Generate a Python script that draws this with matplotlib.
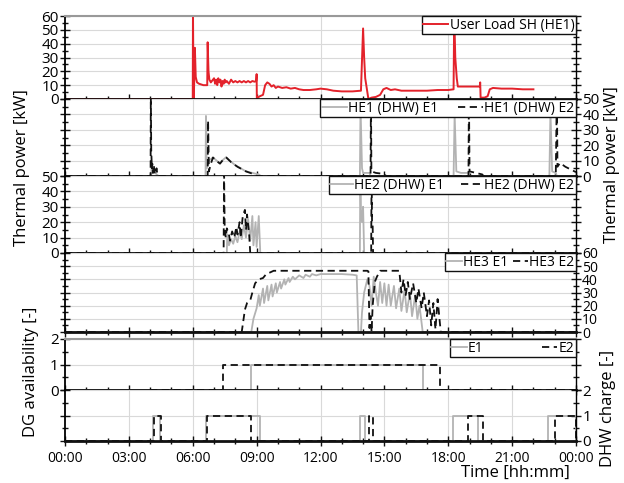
import numpy as np
import matplotlib
matplotlib.use('Agg')
import matplotlib.pyplot as plt
from matplotlib.ticker import MultipleLocator, FuncFormatter

plt.rcParams['font.family'] = ['Open Sans', 'DejaVu Sans']

# ---- data (time in hours) ----
# user load space heating HE1 [kW]
sh_t = [0, 6.0, 6.01, 6.03, 6.05, 6.07, 6.1, 6.14, 6.2, 6.3, 6.4, 6.5, 6.6, 6.68, 6.7, 6.74, 6.78, 6.85,
        6.9, 7.0, 7.05, 7.1, 7.15, 7.2, 7.25, 7.3, 7.35, 7.4, 7.45, 7.5, 7.55, 7.6, 7.7, 7.8, 7.9, 8.0,
        8.1, 8.2, 8.3, 8.4, 8.5, 8.6, 8.7, 8.8, 8.9, 8.98, 9.0, 9.01, 9.05, 9.15, 9.3, 9.4, 9.5, 9.6,
        9.7, 9.8, 9.9, 10.0, 10.2, 10.4, 10.6, 10.8, 11.0, 11.2, 11.5, 11.8, 12.0, 12.3, 12.6, 13.0,
        13.5, 13.9, 14.0, 14.05, 14.1, 14.2, 14.25, 14.4, 14.6, 14.8, 14.95, 15.1, 15.3, 15.5, 15.8,
        16.0, 16.5, 17.0, 17.5, 18.0, 18.25, 18.28, 18.33, 18.4, 18.45, 18.8, 19.2, 19.48, 19.5, 19.52,
        19.7, 19.85, 19.95, 20.1, 20.5, 21.0, 21.5, 22.0]
sh_p = [0, 0, 62, 20, 0, 14, 37, 16, 12, 11, 10.5, 10, 10, 10, 41, 20, 14, 12,
        13, 15, 11, 14, 10, 15, 12, 14, 9, 13, 11, 14, 12, 13, 11, 14, 12, 13,
        12, 13, 12, 13, 12, 13, 12, 13, 12.5, 13, 18, 0, 1, 2, 3, 10, 12, 11,
        9, 10, 8, 9, 8, 8.5, 7.5, 8, 7, 6.5, 6.5, 7, 7.5, 7, 6, 5.5,
        5.5, 6, 51, 30, 15, 5, 0, 1, 1.5, 3, 7, 8, 6.5, 7, 6,
        6, 6, 6, 6.5, 6.5, 7, 62, 30, 15, 9, 9, 9, 9, 12, 1,
        1, 2, 7, 8, 7.5, 7.5, 7, 7]

# HE1 DHW [kW]
he1_e1_t = [0, 4.05, 4.07, 4.12, 4.2, 4.3, 4.4, 6.6, 6.62, 6.66, 6.75, 6.95, 7.25, 7.55, 8.0, 8.5, 9.1, 9.2,
            13.85, 13.88, 13.95, 14.0, 14.3, 14.35, 18.25, 18.3, 18.38, 18.6, 18.95, 19.0,
            22.75, 22.8, 22.88, 23.05, 23.1, 24]
he1_e1_p = [0, 0, 6, 2, 4, 1, 0, 0, 39, 5, 10, 12, 8.5, 12, 7, 3, 1, 0,
            0, 45, 5, 2, 2, 0, 0, 40, 3, 2, 2, 0,
            0, 42, 3, 2, 0, 0]
he1_e2_t = [0, 4.02, 4.03, 4.05, 4.08, 4.1, 4.13, 4.17, 4.22, 4.3, 4.35, 6.7, 6.72, 6.76, 6.85, 6.95, 7.1,
            7.28, 7.45, 7.58, 7.8, 8.1, 8.5, 8.9, 9.0, 14.35, 14.37, 14.39, 14.6, 14.9, 15.1,
            18.95, 18.97, 19.0, 19.3, 19.6, 19.65, 23.05, 23.1, 23.13, 23.25, 23.5, 24.0]
he1_e2_p = [0, 0, 55, 17, 5, 8, 2, 7, 1, 5, 0, 0, 36, 3, 8, 12, 10,
            8, 11, 12, 9, 6, 3, 1, 0, 0, 55, 3, 2, 1.5, 0,
            0, 55, 3, 2, 1, 0, 0, 55, 6, 8.5, 6, 2.5]

# HE2 DHW [kW]
he2_e1_t = [0, 7.6, 7.62, 7.7, 7.8, 7.9, 8.0, 8.1, 8.2, 8.3, 8.4, 8.5, 8.6, 8.7, 8.8, 8.85, 8.95, 9.0,
            9.1, 9.16, 9.17, 13.85, 13.87, 13.9, 13.95, 14.0, 14.05, 24]
he2_e1_p = [0, 0, 12, 5, 9, 6, 11, 7, 14, 9, 18, 10, 22, 8, 24, 5, 20, 4,
            24, 4, 0, 0, 55, 28, 20, 30, 0, 0]
he2_e2_t = [0, 7.45, 7.47, 7.5, 7.55, 7.6, 7.7, 7.75, 7.85, 7.95, 8.05, 8.1, 8.2, 8.25, 8.35, 8.45, 8.5,
            8.55, 8.65, 8.7, 14.38, 14.4, 14.42, 14.45, 14.47, 24]
he2_e2_p = [0, 0, 55, 15, 10, 16, 12, 8, 14, 10, 17, 12, 20, 10, 24, 28, 15,
            25, 12, 0, 0, 55, 20, 18, 0, 0]

# HE3 [kW]
he3_e1_t = [0, 8.75, 8.85, 9.0, 9.1, 9.15, 9.3, 9.35, 9.5, 9.55, 9.7, 9.75, 9.9, 9.95, 10.1, 10.15, 10.3,
            10.35, 10.5, 10.55, 10.7, 10.8, 11.0, 11.2, 11.3, 11.5, 11.6, 11.8, 12.0, 12.5, 13.0, 13.5,
            13.7, 13.78, 13.9, 13.95, 14.05, 14.2, 14.3, 14.4, 14.5, 14.6, 14.7, 14.8, 14.9, 15.0, 15.1,
            15.2, 15.3, 15.45, 15.55, 15.7, 15.8, 15.95, 16.05, 16.2, 16.3, 16.45, 16.55, 16.65, 16.8, 24]
he3_e1_p = [0, 0, 10, 18, 28, 20, 33, 22, 35, 24, 36, 27, 37, 30, 38, 33, 40,
            36, 41, 38, 42, 40, 43, 41, 43.5, 42, 44, 43, 44, 44, 44, 43.5,
            43, 0, 0, 15, 30, 40, 35, 20, 42, 30, 20, 38, 22, 37, 20,
            36, 20, 35, 18, 33, 16, 32, 15, 30, 12, 28, 10, 20, 0, 0]
he3_e2_t = [0, 8.3, 8.45, 8.55, 8.7, 8.8, 8.93, 9.1, 9.3, 9.45, 9.6, 9.8, 14.2, 14.25, 14.3, 14.35, 14.4,
            14.45, 14.55, 14.65, 14.8, 15.7, 15.8, 15.9, 16.0, 16.1, 16.2, 16.35, 16.5, 16.6, 16.75,
            16.85, 17.0, 17.1, 17.2, 17.3, 17.4, 17.5, 17.6, 17.65, 24]
he3_e2_p = [0, 0, 17, 22, 24, 30, 37, 40, 41, 44, 45, 46.5, 46.5, 46, 3, 12, 0,
            20, 38, 42, 46.5, 46.5, 30, 40, 28, 38, 25, 37, 22, 33, 18,
            30, 12, 24, 5, 22, 2, 25, 8, 0, 0]

# DG availability: (on, off) intervals
dg_e1 = [(8.75, 16.8)]
dg_e2 = [(7.44, 17.6)]
# DHW charge: (on, off) intervals
dhw_e1 = [(4.15, 4.45), (6.6, 9.16), (13.86, 14.1), (18.24, 19.41), (22.7, 24.0)]
dhw_e2 = [(4.2, 4.5), (6.65, 8.72), (14.3, 14.48), (18.94, 19.62), (23.0, 24.0)]


def steps(intervals, start=0.0, end=24.0):
    xs, ys = [start], [0]
    for a, b in intervals:
        xs += [a, a, b, b]
        ys += [0, 1, 1, 0]
    xs.append(end)
    ys.append(0)
    return xs, ys


RED = '#e3222b'
GRAY = '#b3b3b3'
BLK = '#111111'
DASH = (0, (4, 2.5))
GRID = '#d9d9d9'

W_PX, H_PX = 624, 483
X0, X1 = 65, 576
fig = plt.figure(figsize=(6.24, 4.83), dpi=100)


def make_ax(top, bot):
    return fig.add_axes([X0 / W_PX, 1 - bot / H_PX, (X1 - X0) / W_PX, (bot - top) / H_PX])


def style(ax, ymax, major, minor, side, vgrid=(6, 12, 18), top_gray=False, lsize=11):
    ax.set_xlim(0, 24)
    ax.set_ylim(0, ymax)
    ax.xaxis.set_major_locator(MultipleLocator(3))
    ax.xaxis.set_minor_locator(MultipleLocator(1))
    ax.yaxis.set_major_locator(MultipleLocator(major))
    ax.yaxis.set_minor_locator(MultipleLocator(minor))
    ax.tick_params(axis='x', which='both', direction='inout', bottom=True, top=False,
                   labelbottom=False, width=1, color=BLK)
    ax.tick_params(axis='x', which='major', length=7)
    ax.tick_params(axis='x', which='minor', length=5)
    ax.tick_params(axis='y', which='both', direction='inout', left=True, right=True,
                   labelleft=(side == 'left'), labelright=(side == 'right'),
                   width=1, color=BLK, labelsize=lsize, pad=1)
    ax.tick_params(axis='y', which='major', length=7)
    ax.tick_params(axis='y', which='minor', length=5)
    ax.grid(axis='y', which='major', color=GRID, lw=0.8)
    for v in vgrid:
        ax.axvline(v, color=GRID, lw=0.8, zorder=0)
    ax.spines['bottom'].set_linewidth(2)
    ax.spines['bottom'].set_color(BLK)
    ax.spines['left'].set_linewidth(1.3)
    ax.spines['right'].set_linewidth(1)
    ax.spines['top'].set_visible(top_gray)
    if top_gray:
        ax.spines['top'].set_color('#999999')
        ax.spines['top'].set_linewidth(1.5)
    ax.set_axisbelow(True)


def legend(ax, ncol=1, colsp=0.6, hl=1.1):
    lg = ax.legend(loc='upper right', ncol=ncol, fontsize=10, frameon=True, fancybox=False,
                   framealpha=1, edgecolor=BLK, borderpad=0.12, borderaxespad=0,
                   handlelength=hl, handletextpad=0.1, columnspacing=colsp, labelspacing=0.1)
    lg.get_frame().set_linewidth(1.0)
    lg.set_zorder(10)
    return lg


# (1) user load SH
ax1 = make_ax(16, 99)
ax1.plot(sh_t, sh_p, color=RED, lw=1.4, label='User Load SH (HE1)')
style(ax1, 60, 10, 5, 'left', top_gray=True)
legend(ax1, hl=1.8)

# (2) HE1 DHW
ax2 = make_ax(99, 176)
ax2.plot(he1_e1_t, he1_e1_p, color=GRAY, lw=1.3, label='HE1 (DHW) E1')
ax2.plot(he1_e2_t, he1_e2_p, color=BLK, lw=1.3, ls=DASH, label='HE1 (DHW) E2')
style(ax2, 50, 10, 5, 'right')
legend(ax2, ncol=2, colsp=1.4, hl=1.8)

# (3) HE2 DHW
ax3 = make_ax(176, 253)
ax3.plot(he2_e1_t, he2_e1_p, color=GRAY, lw=1.3, label='HE2 (DHW) E1')
ax3.plot(he2_e2_t, he2_e2_p, color=BLK, lw=1.3, ls=DASH, label='HE2 (DHW) E2')
style(ax3, 50, 10, 5, 'left')
legend(ax3, ncol=2, colsp=1.2, hl=1.6)

# (4) HE3
ax4 = make_ax(253, 332)
ax4.plot(he3_e1_t, he3_e1_p, color=GRAY, lw=1.3, label='HE3 E1')
ax4.plot(he3_e2_t, he3_e2_p, color=BLK, lw=1.3, ls=DASH, label='HE3 E2')
style(ax4, 60, 10, 5, 'right', lsize=10)
legend(ax4, ncol=2, colsp=0.3)

# (5) DG availability
ax5 = make_ax(339, 390)
x, y = steps(dg_e1)
ax5.plot(x, y, color=GRAY, lw=1.3, label='E1')
x, y = steps(dg_e2, start=4.0)
ax5.plot(x, y, color=BLK, lw=1.3, ls=DASH, label='E2')
style(ax5, 2, 1, 0.5, 'left', vgrid=(6,), top_gray=True)
legend(ax5, ncol=2, colsp=4.2)

# (6) DHW charge
ax6 = make_ax(390, 441)
x, y = steps(dhw_e1)
ax6.plot(x, y, color=GRAY, lw=1.3)
x, y = steps(dhw_e2)
ax6.plot(x, y, color=BLK, lw=1.3, ls=DASH)
style(ax6, 2, 1, 0.5, 'right', vgrid=(3, 6, 9, 12, 15, 18, 21))
ax6.tick_params(axis='x', which='major', labelbottom=True, labelsize=10, pad=4)
ax6.xaxis.set_major_formatter(FuncFormatter(lambda v, p: f'{int(v) % 24:02d}:00'))

# axis labels
fig.text(22 / W_PX, 1 - 168 / H_PX, 'Thermal power [kW]', rotation=90, ha='center', va='center', fontsize=12)
fig.text(612 / W_PX, 1 - 165 / H_PX, 'Thermal power [kW]', rotation=90, ha='center', va='center', fontsize=12)
fig.text(31 / W_PX, 1 - 372 / H_PX, 'DG availability [-]', rotation=90, ha='center', va='center', fontsize=12)
fig.text(608 / W_PX, 1 - 408 / H_PX, 'DHW charge [-]', rotation=90, ha='center', va='center', fontsize=12)
fig.text(570 / W_PX, 1 - 473 / H_PX, 'Time [hh:mm]', ha='right', va='center', fontsize=12)

fig.savefig('out.png', dpi=100)
